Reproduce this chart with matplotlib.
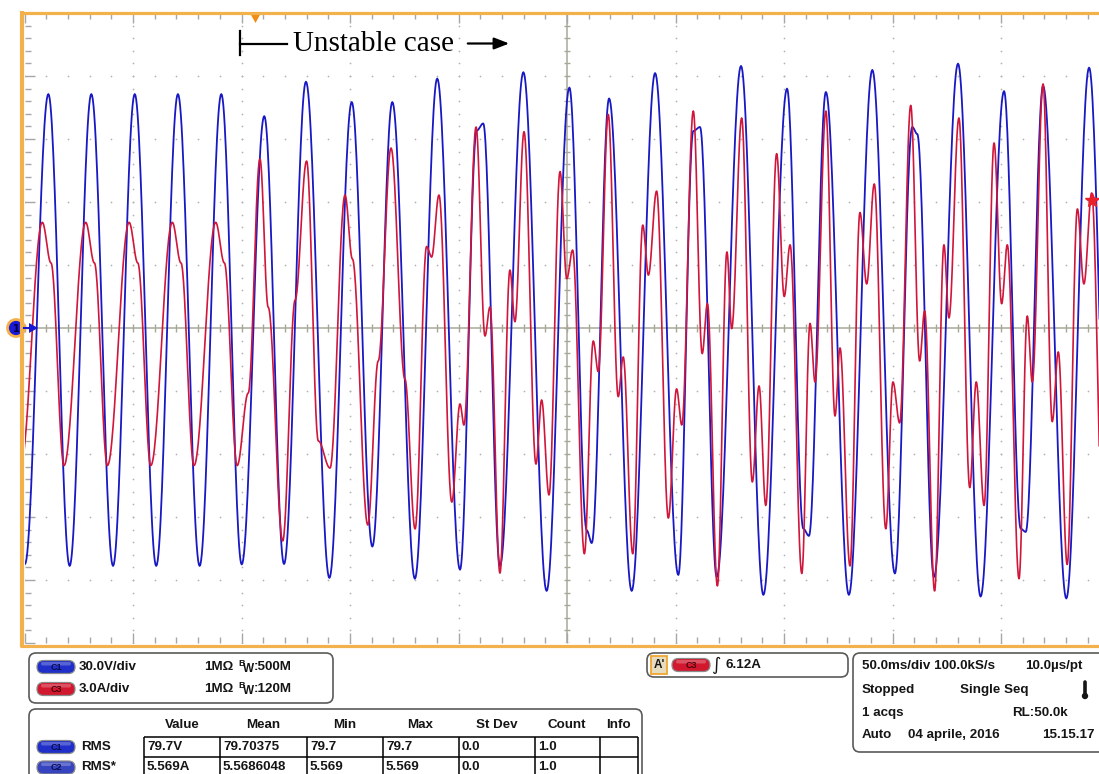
import numpy as np
import matplotlib
matplotlib.use("Agg")
import matplotlib.pyplot as plt
from matplotlib.patches import FancyBboxPatch, Circle, Rectangle, Polygon

# C1 voltage trace: successive extrema (time in ms, volts)
blue_t = [0.2, 11.0, 20.8, 30.8, 40.8, 50.8, 60.7, 70.7, 80.7, 90.7,
          100.1, 110.5, 119.6, 129.7, 140.5, 150.8, 160.3, 169.5, 179.9, 190.2,
          200.7, 208.4, 211.4, 219.1, 229.9, 240.6, 251.1, 259.1, 261.4, 269.4,
          279.8, 290.6, 301.3, 308.2, 311.3, 319.0, 330.2, 340.5, 351.4, 358.9,
          361.5, 369.3, 379.9, 390.7, 401.1, 409.1, 411.4, 419.1, 430.2, 440.6,
          451.4, 459.1, 461.4, 469.4, 480.1, 490.6, 500.2]
blue_v = [-112.4, 111.4, -113.3, 111.4, -113.3, 111.4, -113.3, 111.4, -113.3, 111.4,
          -112.6, 100.9, -112.4, 117.3, -119.0, 107.6, -104.1, 107.6, -119.4, 118.8,
          -115.1, 94.0, 97.4, -113.3, 121.8, -125.2, 114.5, -96.4, -102.4, 109.3,
          -125.2, 121.4, -117.6, 93.8, 95.7, -118.6, 124.8, -127.1, 114.0, -95.6,
          -99.0, 112.4, -127.1, 122.9, -116.9, 95.7, 92.4, -118.6, 125.9, -127.9,
          112.8, -95.6, -97.1, 115.3, -128.8, 124.0, -115.0]

# C3 current trace: successive extrema and shoulders (time in ms, amperes)
red_t = [-1.8, 8.2, 12.2, 18.2, 28.2, 32.2, 38.2, 48.2, 52.2, 58.2, 68.1, 72.1,
         78.1, 88.1, 92.1, 98.0,
         103.1, 108.5, 112.3, 119.0, 124.7, 130.0, 135.4, 140.8, 147.7, 151.1,
         158.2, 163.0, 168.9, 175.3, 180.0, 185.3, 187.6, 191.0, 196.9, 200.7,
         202.5, 208.1, 212.2, 214.5, 219.1, 223.7, 226.0, 230.2, 235.7, 238.3,
         241.7, 246.8, 249.9, 252.6, 258.0, 262.1, 264.4, 269.0, 273.6, 275.9,
         280.3, 284.9, 287.5, 291.3, 296.7, 300.5, 302.9, 308.2, 312.3, 314.7,
         319.3, 323.7, 325.9, 330.5, 335.4, 338.5, 341.6, 346.6, 350.1, 352.8,
         358.2, 362.0, 364.3, 369.3, 373.5, 375.8, 380.4, 385.0, 388.1, 391.6,
         396.9, 400.2, 403.3, 408.4, 412.5, 414.8, 419.4, 423.7, 426.0, 430.6,
         435.6, 438.6, 442.2, 446.8, 450.3, 452.9, 458.3, 462.1, 464.4, 469.4,
         473.6, 476.4, 480.5, 485.2, 488.2, 491.8, 497.0]
red_a = [-6.55, 5.03, 3.1, -6.55, 5.03, 3.1, -6.55, 5.03, 3.1, -6.55, 5.03, 3.1,
         -6.55, 5.03, 3.1, -6.55,
         -3.10, 8.05, 0.99, -10.14, 1.33, 7.95, -5.38, -6.67, 6.33, 3.29,
         -9.38, -1.57, 8.57, -2.43, -9.57, 3.88, 3.38, 6.33, -8.29, -3.62,
         -4.62, 9.57, -0.38, 1.00, -11.67, 2.76, 0.30, 9.35, -6.48, -3.43,
         -7.95, 7.45, 2.35, 3.71, -10.75, -0.62, -2.08, 10.17, -3.27, -1.38,
         -10.75, 4.90, 2.52, 6.52, -9.05, -2.90, -4.62, 10.33, -1.22, 1.16,
         -12.28, 3.62, -0.03, 10.00, -7.33, -2.76, -8.45, 8.30, 1.50, 3.96,
         -11.69, 0.22, -2.57, 10.33, -4.19, -0.95, -11.33, 5.50, 2.10, 6.86,
         -9.56, -2.57, -4.52, 10.60, -1.57, 0.81, -12.52, 3.96, 0.48, 10.00,
         -7.60, -2.57, -8.45, 8.81, 1.16, 3.96, -11.94, 0.57, -2.57, 11.62,
         -4.46, -1.14, -11.26, 5.67, 2.10, 6.43, -9.62]

volts_per_div = 30.0
amps_per_div = 3.0
ms_per_div = 50.0

ch_rows = [("C1", "30.0V/div", "1MΩ", ":500M"), ("C3", "3.0A/div", "1MΩ", ":120M")]
meas_header = ["Value", "Mean", "Min", "Max", "St Dev", "Count", "Info"]
meas_rows = [("C1", "RMS", ["79.7V", "79.70375", "79.7", "79.7", "0.0", "1.0", ""]),
             ("C2", "RMS*", ["5.569A", "5.5686048", "5.569", "5.569", "0.0", "1.0", ""])]
trig_text = "6.12A"
acq_lines = [[("50.0ms/div 100.0kS/s", 862, "left"), ("10.0µs/pt", 1083, "right")],
             [("Stopped", 862, "left"), ("Single Seq", 960, "left")],
             [("1 acqs", 862, "left"), ("RL:50.0k", 1068, "right")],
             [("Auto", 862, "left"), ("04 aprile, 2016", 908, "left"), ("15.15.17", 1095, "right")]]


def trace(t_ext, y_ext, n=30):
    """Join successive extrema with half-cosine segments."""
    ts, ys = [], []
    for i in range(len(t_ext) - 1):
        s = np.linspace(0, 1, n, endpoint=False)
        ts.append(t_ext[i] + (t_ext[i + 1] - t_ext[i]) * s)
        ys.append(y_ext[i] + (y_ext[i + 1] - y_ext[i]) * (1 - np.cos(np.pi * s)) / 2)
    ts.append([t_ext[-1]]); ys.append([y_ext[-1]])
    return np.concatenate(ts), np.concatenate(ys)


# ---------------- figure ----------------
W, H = 1099, 774
fig = plt.figure(figsize=(W / 100, H / 100), dpi=100)
fig.patch.set_facecolor("white")

X0, X1 = 24.5, 1099.0
Y0, Y1 = 13.0, 643.0
px_per_div = 108.5
ax = fig.add_axes([X0 / W, 1 - Y1 / H, (X1 - X0) / W, (Y1 - Y0) / H])
xmax = (X1 - X0) / px_per_div * ms_per_div
ax.set_xlim(0, xmax)
ax.set_ylim(-5, 5)
ax.set_facecolor("white")
for sp in ax.spines.values():
    sp.set_visible(False)

xmaj = np.arange(0, 500, ms_per_div)
xmin = np.arange(0, 500, ms_per_div / 5)
ymaj = np.arange(-5, 5.01, 1.0)
ymin = np.arange(-5, 5.01, 0.2)
ax.set_xticks(xmaj)
ax.set_xticks(xmin, minor=True)
ax.set_yticks(ymaj)
ax.set_yticks(ymin, minor=True)
ax.tick_params(which="both", direction="in", top=True, bottom=True, left=True,
               right=False, labelbottom=False, labelleft=False, color="#a6a6a6", width=1)
ax.tick_params(which="major", length=7)
ax.tick_params(which="minor", length=4)

# dotted graticule
dot_c = "#b4b4b4"
for xm in xmaj[1:]:
    if abs(xm - 250) > 1:
        ax.scatter(np.full(len(ymin), xm), ymin, s=1.6, c=dot_c, lw=0, zorder=1)
for ym in ymaj[1:-1]:
    if abs(ym) > 1e-6:
        ax.scatter(xmin, np.full(len(xmin), ym), s=1.6, c=dot_c, lw=0, zorder=1)

# centre crosshair with ticks
cc = "#a8a898"
ax.axhline(0, color=cc, lw=1.1, zorder=1)
ax.axvline(250, color=cc, lw=1.1, zorder=1)
ax.vlines(xmin, -0.06, 0.06, color=cc, lw=1.0, zorder=1)
ax.hlines(ymin, 250 - 1.6, 250 + 1.6, color=cc, lw=1.0, zorder=1)

# traces
bt, bv = trace(blue_t, blue_v)
rt, ra = trace(red_t, red_a)
ax.plot(bt, bv / volts_per_div, color="#1818c4", lw=1.3, zorder=3)
ax.plot(rt, ra / amps_per_div, color="#d0163a", lw=1.2, zorder=4)

# ---------------- overlay in pixel coordinates ----------------
ov = fig.add_axes([0, 0, 1, 1], zorder=10)
ov.set_xlim(0, W)
ov.set_ylim(H, 0)
ov.axis("off")
ov.patch.set_alpha(0)

orange = "#f3b14c"
ov.plot([22, 22], [11, 647], color=orange, lw=3.0, solid_capstyle="butt")
ov.plot([20, W], [12.5, 12.5], color=orange, lw=2.3, solid_capstyle="butt")
ov.plot([20, W], [645.5, 645.5], color=orange, lw=2.3, solid_capstyle="butt")

# trigger position marker
ov.add_patch(Polygon([(250, 13), (261, 13), (255.5, 23)], closed=True, fc="#f08c12", ec="none"))
# channel 1 ground marker
ov.plot([24, 31], [328, 328], color="#1818d0", lw=1.5)
ov.add_patch(Polygon([(29, 323), (38, 328), (29, 333)], closed=True, fc="#1818d0", ec="none"))
ov.add_patch(Circle((16, 328), 8.5, fc="#1a1ad4", ec=orange, lw=2.0, clip_on=False))
ov.text(16, 328.5, "1", fontsize=7, color="#000040", ha="center", va="center", fontweight="bold")
# C3 trigger level marker
ov.plot(1092, 200, marker="*", ms=10, color="#e8202c", mec="#e8202c")

# annotation
ov.plot([240, 240], [31, 55], color="black", lw=1.6)
ov.plot([240, 287], [43.5, 43.5], color="black", lw=1.6)
ov.text(293, 44, "Unstable case", fontsize=21, family=["Liberation Serif", "DejaVu Serif"],
        ha="left", va="center", color="black")
ov.annotate("", xy=(512, 43.5), xytext=(465, 43.5),
            arrowprops=dict(arrowstyle="-|>,head_length=0.9,head_width=0.35", color="black", lw=1.6))

# ---------------- info panels ----------------
SANS = ["Liberation Sans", "DejaVu Sans"]
FS = 9.6


def T(x, y, s, size=FS, ha="left", color="#151515", **kw):
    ov.text(x, y, s, fontsize=size, fontweight="bold", family=SANS, ha=ha, va="center",
            color=color, **kw)


def box(x, y, w, h, r=7):
    ov.add_patch(FancyBboxPatch((x, y), w, h, boxstyle=f"round,pad=0,rounding_size={r}",
                                fc="white", ec="#5a5a5a", lw=1.2, clip_on=False))


pill_col = {"C1": ("#1f2fc8", "#0a0a50"), "C2": ("#3644c0", "#0a0a50"), "C3": ("#d2182e", "#4a0008")}


def pill(x, y, lab, w=38, h=13):
    fc, tc = pill_col[lab]
    ov.add_patch(FancyBboxPatch((x, y - h / 2), w, h, boxstyle=f"round,pad=0,rounding_size={h/2}",
                                fc=fc, ec="#8a8a8a", lw=0.9))
    ov.add_patch(FancyBboxPatch((x + 4, y - h / 2 + 1.5), w - 8, 3.5,
                                boxstyle="round,pad=0,rounding_size=1.7",
                                fc="white", ec="none", alpha=0.25))
    ov.text(x + w / 2, y + 0.5, lab, fontsize=6.5, fontweight="bold", family=SANS,
            ha="center", va="center", color=tc)


# channel box
box(29, 653, 304, 50)
for (lab, scale, imp, bw), y in zip(ch_rows, [667, 689]):
    pill(37, y, lab)
    T(79, y, scale)
    T(204, y, imp)
    T(238, y - 4, "B", size=6.5)
    T(242.5, y + 2, "W", size=8.5)
    T(254, y, bw)

# measurement box
box(29, 709, 613, 90)
for s, xc in zip(meas_header, [182, 263, 345, 420, 497, 567, 618]):
    T(xc, 725, s, ha="center")
col_x = [144, 220, 307, 383, 459, 535, 600, 638]
ov.hlines([737, 757], col_x[0], col_x[-1], color="black", lw=1.1)
ov.vlines(col_x, 737, 790, color="black", lw=1.1)
for (lab, name, vals), y in zip(meas_rows, [747, 767.5]):
    pill(37, y, lab)
    T(81, y, name)
    for v, xl in zip(vals, col_x[:-1]):
        T(xl + 3, y, v)

# trigger box
box(647, 653, 201, 24)
ov.add_patch(Rectangle((651, 656), 16, 18, fc="#e6dcc0", ec="#f0a630", lw=1.3))
T(659, 665, "A'", size=8.5, ha="center")
pill(672, 665, "C3")
ov.text(716, 665, "∫", fontsize=13, family=["DejaVu Sans"], ha="center", va="center", color="#151515")
T(725, 665, trig_text)

# acquisition box
box(853, 653, 270, 99)
for line, y in zip(acq_lines, [666, 690, 713, 735]):
    for s, x, ha in line:
        T(x, y, s, ha=ha)
# thermometer symbol
ov.plot([1085, 1085], [682, 694], color="#151515", lw=2.6, solid_capstyle="round")
ov.add_patch(Circle((1085, 696), 3.2, fc="#151515", ec="none"))

fig.savefig("out.png", dpi=100)
